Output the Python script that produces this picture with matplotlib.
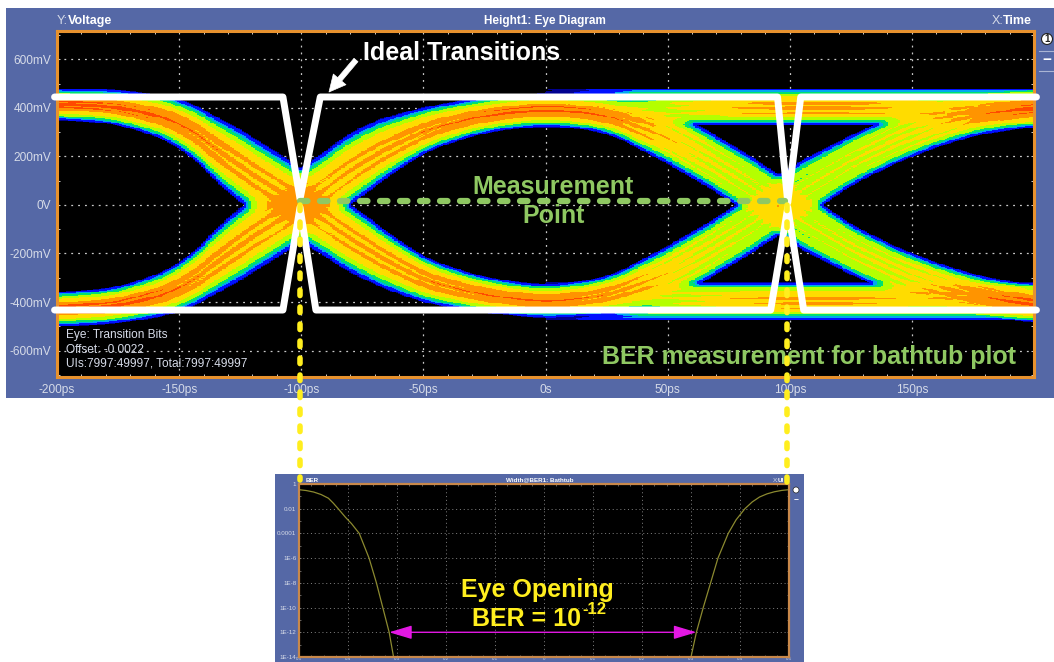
import numpy as np
import matplotlib
matplotlib.use("Agg")
import matplotlib.pyplot as plt
from matplotlib.colors import ListedColormap, BoundaryNorm
from matplotlib.patches import Rectangle, Circle

plt.rcParams['font.family'] = ['Liberation Sans', 'DejaVu Sans']
W, H = 1054, 662

# ---------- eye diagram traces (ps / mV)
t_table = [-200,-175,-150,-125,-100,-75,-50,-25,0,25,50,75,100,125,150,175,200]
fall_center = [415,405,346,158,0,-172,-311,-372,-400,-375,-284,-140,30,185,300,370,400]
fall_half   = [65,72,100,158,155,140,95,74,70,75,116,120,130,105,100,85,80]
fall_level  = [1.15,1.05,.8,.66,.52,.62,.7,.8,.85,.7,.45,.32,.3,.32,.36,.55,1.1]
rise_center = [-430,-415,-350,-158,0,185,311,372,395,375,284,140,-30,-185,-300,-370,-410]
rise_half   = [72,75,100,158,155,150,95,74,70,75,116,120,130,105,100,85,78]
rise_level  = [1.15,1.05,.76,.64,.52,.6,.72,.85,.95,.8,.48,.32,.3,.32,.38,.58,1.1]
top_center  = [405]*17
top_half    = [77]*17
top_level   = [0,0,0,0,0,0,0,0,0,.05,.3,.5,.62,.62,.45,.3,.2]
bot_center  = [-396]*17
bot_half    = [78]*17
bot_level   = [0,0,0,0,0,0,0,0,0,.05,.3,.5,.62,.62,.45,.3,.2]

density_steps  = [.004,.02,.08,.12,.19,.33,.58,.9,2]
density_colors = ['#000090','#0010ff','#00a8f0','#00e070','#b4ff00','#ffdc00','#ff9400','#ff4a00']

# ideal transition masks (ps / mV)
ideal_top_t = [-201,-107.5,-100.5,-92.2,95,99.2,104.5,201]
ideal_top_v = [445,445,25,445,445,10,445,445]
ideal_bot_t = [-201,-107.5,-100.5,-94,92.2,99.2,105.7,201]
ideal_bot_v = [-433,-433,-10,-433,-433,-10,-433,-433]

time_ticks = [-200,-150,-100,-50,0,50,100,150]
time_labels = ['-200ps','-150ps','-100ps','-50ps','0s','50ps','100ps','150ps']
volt_ticks = [600,400,200,0,-200,-400,-600]
volt_labels = ['600mV','400mV','200mV','0V','-200mV','-400mV','-600mV']
eye_notes = ['Eye: Transition Bits','Offset: -0.0022','UIs:7997:49997, Total:7997:49997']

# ---------- bathtub curve (UI / log10 BER)
left_ui  = [-.5,-.485,-.47,-.455,-.44,-.43,-.42,-.405,-.393,-.377,-.357,-.342,-.329,-.316,-.307]
left_ber = [-.46,-.53,-.65,-.85,-1.15,-1.55,-2,-2.7,-3.2,-4,-6,-8,-10,-12,-14]
right_ui  = [.30,.311,.325,.340,.355,.376,.392,.41,.425,.44,.455,.47,.485,.5]
right_ber = [-14,-12,-10,-8,-6,-4,-2.9,-2,-1.45,-1.05,-.8,-.63,-.52,-.46]
ber_ticks = [0,-2,-4,-6,-8,-10,-12,-14]
ber_labels = ['1','0.01','0.0001','1E-6','1E-8','1E-10','1E-12','1E-14']
ui_ticks = [-.5,-.4,-.3,-.2,-.1,0,.1,.2,.3,.4,.5]
ui_labels = ['0.5','0.4','0.3','0.2','0.1','0','0.1','0.2','0.3','0.4','0.5']

BLUE = '#5568a6'; ORANGE = '#e8922e'; LABEL = '#d6dbe8'; GREEN = '#8fc862'; YEL = '#ffee1e'

fig = plt.figure(figsize=(W/100, H/100), dpi=100, facecolor='white')

def px_axes(l, t, r, b, **kw):
    return fig.add_axes([l/W, 1-b/H, (r-l)/W, (b-t)/H], **kw)

# panels
bg = fig.add_axes([0, 0, 1, 1], facecolor='none', zorder=-5)
bg.set_xlim(0, W); bg.set_ylim(H, 0); bg.axis('off')
bg.add_patch(Rectangle((6, 8), W-6, 390, fc=BLUE, ec='none'))
bg.add_patch(Rectangle((275, 474), 529, H-474, fc=BLUE, ec='none'))

# ---------- main eye axes
ax = px_axes(57, 31, 1034, 377, facecolor='black')
ax.set_xlim(-200, 200)
ax.set_ylim(-709, 717)

tt = np.arange(-200, 200.01, 0.8)
vv = np.arange(-712, 720, 3.5)
T, V = np.meshgrid(tt, vv)

def smooth(a, n=12):
    pad = np.pad(a, n, mode='edge')
    return np.convolve(pad, np.ones(2*n+1)/(2*n+1), mode='valid')

survive = np.ones_like(T)
for i, (c, h, l) in enumerate([(fall_center, fall_half, fall_level), (rise_center, rise_half, rise_level),
                               (top_center, top_half, top_level), (bot_center, bot_half, bot_level)]):
    cc = smooth(np.interp(tt, t_table, c))
    hh = smooth(np.interp(tt, t_table, h))
    ll = smooth(np.interp(tt, t_table, l))
    s = (V - cc[None, :]) / hh[None, :]
    u = np.abs(s)
    q = np.clip(1 - u, 0, 1)
    edge = .6 * q + .9 * q ** 3
    # streaks running along the band, as in the measured persistence map
    streak = 1 + .2 * np.cos(23 * s + i) * (1 + .4 * np.cos(61 * s + 2 * i))
    d = np.minimum(edge, ll[None, :] * (1 - .35 * u) * streak)
    survive *= 1 - np.clip(d, 0, .999)
dens = 1 - survive
ax.pcolormesh(tt, vv, np.ma.masked_less(dens, density_steps[0]),
              cmap=ListedColormap(density_colors), norm=BoundaryNorm(density_steps, 8),
              shading='nearest', zorder=2)

ax.set_xticks(time_ticks, time_labels)
ax.set_yticks(volt_ticks, volt_labels)
ax.set_xticks(np.arange(-190, 200, 10), minor=True)
ax.set_yticks(np.arange(-700, 701, 100), minor=True)
ax.grid(True, which='major', color='#c8c8c8', lw=0.9, ls=(0, (1.5, 4)), zorder=1)
ax.set_axisbelow(True)
ax.tick_params(which='both', direction='in', top=True, right=True, length=2.5, width=0.7, color='#d0d0d0',
               labelcolor=LABEL, labelsize=8.6, pad=5)
ax.tick_params(axis='y', pad=4)
for s in ax.spines.values():
    s.set_color(ORANGE); s.set_linewidth(2.2); s.set_zorder(4)

ax.plot(ideal_top_t, ideal_top_v, color='white', lw=5, solid_joinstyle='round', solid_capstyle='round', clip_on=False, zorder=5)
ax.plot(ideal_bot_t, ideal_bot_v, color='white', lw=5, solid_joinstyle='round', solid_capstyle='round', clip_on=False, zorder=5)

# ---------- bathtub axes
bx = px_axes(299, 484, 789, 657, facecolor='black')
bx.set_xlim(-.5, .5)
bx.set_ylim(-14, 0)
bx.plot(left_ui, left_ber, color='#8c8a30', lw=0.9)
bx.plot(right_ui, right_ber, color='#8c8a30', lw=0.9)
bx.set_yticks(ber_ticks, ber_labels)
bx.set_xticks(ui_ticks, ui_labels)
bx.set_xticks(np.arange(-.475, .5, .025), minor=True)
bx.set_yticks(np.arange(-14, 0, 1), minor=True)
bx.grid(True, which='major', color='#aaaaaa', lw=0.5, ls=(0, (1.5, 4)))
bx.tick_params(which='both', direction='in', top=True, right=True, length=1.5, width=0.4, color='#aaaaaa',
               labelcolor=LABEL, labelsize=4.5, pad=2)
bx.tick_params(axis='x', labelsize=3.2, pad=0.2)
for s in bx.spines.values():
    s.set_color('#c8884a'); s.set_linewidth(1.6)
bx.annotate('', xy=(-.316, -12), xytext=(.311, -12),
            arrowprops=dict(arrowstyle='<|-|>,head_length=1.4,head_width=0.42', color='#e418e4', lw=1, shrinkA=0, shrinkB=0))

# ---------- overlay in picture pixels
ov = fig.add_axes([0, 0, 1, 1], facecolor='none')
ov.set_xlim(0, W); ov.set_ylim(H, 0); ov.axis('off')

def T_(x, y, s, **kw):
    kw.setdefault('ha', 'center'); kw.setdefault('va', 'center')
    ov.text(x, y, s, **kw)

T_(57, 21, 'Y:', color=LABEL, fontsize=9, ha='left')
T_(68, 21, 'Voltage', color='white', fontsize=9, fontweight='bold', ha='left')
T_(545, 21, 'Height1: Eye Diagram', color='white', fontsize=8.5, fontweight='bold')
T_(992, 21, 'X:', color=LABEL, fontsize=9, ha='left')
T_(1003, 21, 'Time', color='white', fontsize=9, fontweight='bold', ha='left')
for y, s in zip([335, 350, 364], eye_notes):
    T_(66, y, s, color=LABEL, fontsize=8.6, ha='left')

# right hand buttons
ov.add_patch(Circle((1047, 39), 5.5, fc='white', ec='#222222', lw=0.8))
T_(1047, 39, '1', color='#222222', fontsize=7, fontweight='bold')
ov.plot([1039, 1054], [50.5, 50.5], color='#aab4d4', lw=0.8)
ov.plot([1039, 1054], [70.5, 70.5], color='#aab4d4', lw=0.8)
T_(1047, 60, '\u2212', color='white', fontsize=11, fontweight='bold')

ov.text(306, 480, 'BER', color='white', fontsize=4.5, fontweight='bold', ha='left', va='center')
T_(540, 480, 'Width@BER1: Bathtub', color='white', fontsize=4.5, fontweight='bold')
ov.text(773, 480, 'X:', color=LABEL, fontsize=4.5, ha='left', va='center')
ov.text(778, 480, 'UI', color='white', fontsize=4.5, fontweight='bold', ha='left', va='center')
ov.add_patch(Circle((796, 490), 3, fc='white', ec='#222222', lw=0.5))
T_(796, 500, '\u2212', color='white', fontsize=6, fontweight='bold')

# annotations
ov.annotate('', xy=(329, 92), xytext=(356, 60),
            arrowprops=dict(arrowstyle='simple,head_length=0.7,head_width=0.7,tail_width=0.22', fc='white', ec='white', lw=0.5, shrinkA=0, shrinkB=0, mutation_scale=17))
T_(462, 53, 'Ideal Transitions', color='white', fontsize=18, fontweight='bold')
ov.plot([300, 785], [200.5, 200.5], color=GREEN, lw=4.5, ls=(0, (1.2, 2.0)), dash_capstyle='round', zorder=3)
T_(553.5, 187, 'Measurement', color=GREEN, fontsize=18, fontweight='bold', zorder=3)
T_(554, 216, 'Point', color=GREEN, fontsize=18, fontweight='bold', zorder=3)
T_(808.5, 357, 'BER measurement for bathtub plot', color=GREEN, fontsize=18, fontweight='bold', zorder=3)
ov.plot([300, 300], [205, 480], color=YEL, lw=4, ls=(0, (1.0, 2.06)), dash_capstyle='round', zorder=4)
ov.plot([787, 787], [205, 482], color=YEL, lw=4, ls=(0, (1.0, 2.06)), dash_capstyle='round', zorder=4)
T_(537.5, 590, 'Eye Opening', color=YEL, fontsize=18, fontweight='bold')
ov.text(472, 619, 'BER = 10', color=YEL, fontsize=18, fontweight='bold', ha='left', va='center')
ov.text(582, 610, '-12', color=YEL, fontsize=12, fontweight='bold', ha='left', va='center')

fig.savefig('out.png', dpi=100)
